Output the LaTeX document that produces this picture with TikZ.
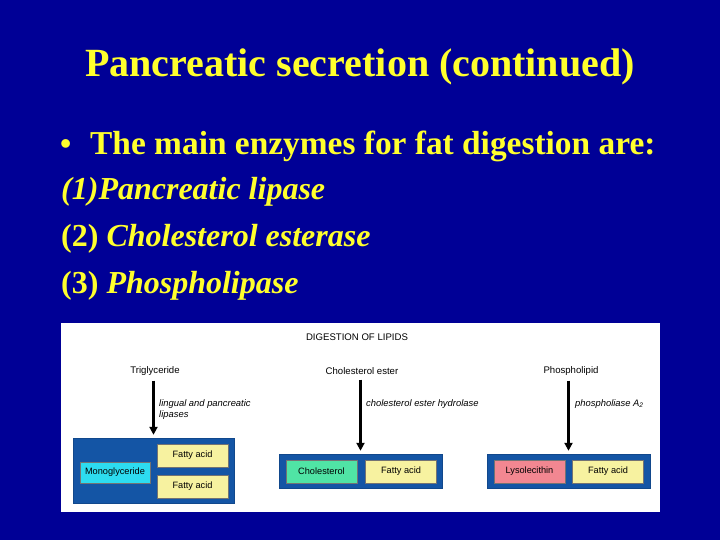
\documentclass[tikz,border=0pt]{standalone}
\usepackage{fontspec}
\setmainfont{Liberation Serif}
\newfontfamily\arialfont{Liberation Sans}
\usepackage{tikz}
\usetikzlibrary{arrows.meta,positioning}
\usepackage{xcolor}

\definecolor{slideblue}{RGB}{0,0,150}
\definecolor{slideyellow}{RGB}{255,255,45}
\definecolor{trayblue}{RGB}{20,85,165}
\definecolor{fattyyellow}{RGB}{247,242,160}
\definecolor{monocyan}{RGB}{45,220,240}
\definecolor{cholgreen}{RGB}{80,228,165}
\definecolor{lysopink}{RGB}{242,135,145}

\tikzset{
  slidetxt/.style={text=slideyellow, anchor=base west, inner sep=0pt,
    font=\bfseries\fontsize{32}{36}\selectfont},
  lbl/.style={inner sep=0pt, font=\arialfont\fontsize{9.6}{11}\selectfont},
  enz/.style={inner sep=0pt, anchor=north west, align=left,
    font=\arialfont\itshape\fontsize{9.4}{11}\selectfont},
  tray/.style={fill=trayblue, draw=trayblue!85!black, inner sep=0pt},
  prod/.style={draw=black!55, line width=0.5pt, inner sep=0pt,
    minimum width=71pt, minimum height=23pt,
    font=\arialfont\fontsize{9.2}{11}\selectfont},
  lipidarrow/.style={-{Triangle[width=8pt,length=8pt]}, line width=2.4pt}
}

\begin{document}
\begin{tikzpicture}[x=1pt, y=-1pt]
\fill[slideblue] (0,0) rectangle (720,540);
\useasboundingbox (0,0) rectangle (720,540);
% --- title and list ---
\node[text=slideyellow, inner sep=0pt, anchor=base, font=\bfseries\fontsize{40}{44}\selectfont]
  (title) at (360,77) {Pancreatic secretion (continued)};
\node[slidetxt] (bul) at (60,155) {\textbullet};
\node[slidetxt, font=\bfseries\fontsize{33.4}{36}\selectfont] (line1) at (90,155) {The main enzymes for fat digestion are:};
\node[slidetxt] (line2) at (61,200) {\itshape (1)Pancreatic lipase};
\node[slidetxt] (line3) at (61,247) {(2) \textit{Cholesterol esterase}};
\node[slidetxt] (line4) at (61,293) {(3) \textit{Phospholipase}};
% --- figure: digestion of lipids ---
\fill[white] (61,323) rectangle (660,512);
\node[lbl] (head) at (357,337) {DIGESTION OF LIPIDS};
% triglyceride
\node[lbl] (tri) at (155,371) {Triglyceride};
\node[enz] (lip) at (159,399) {lingual and pancreatic\\lipases};
\node[tray, minimum width=161pt, minimum height=65pt] (tray1) at (153.5,470.5) {};
\node[prod, fill=monocyan, minimum width=70pt, minimum height=21pt] (mono) at (115,472.5) {Monoglyceride};
\node[prod, fill=fattyyellow] (fa1) at (192.5,455.5) {Fatty acid};
\node[prod, fill=fattyyellow] (fa2) at (192.5,486.5) {Fatty acid};
\draw[lipidarrow] (tray1.north |- tri.south) ++(0,5) -- ([yshift=3pt]tray1.north);
% cholesterol ester
\node[lbl] (ester) at (362,371) {Cholesterol ester};
\node[enz] (hyd) at (366,399) {cholesterol ester hydrolase};
\node[tray, minimum width=163pt, minimum height=34pt] (tray2) at (360.5,471) {};
\node[prod, fill=cholgreen] (chol) at (321.5,471.5) {Cholesterol};
\node[prod, fill=fattyyellow, right=8pt of chol] (fa3) {Fatty acid};
\draw[lipidarrow] (tray2.north |- ester.south) ++(0,5) -- ([yshift=3pt]tray2.north);
% phospholipid
\node[lbl] (phos) at (571,371) {Phospholipid};
\node[enz] (pla) at (575,399) {phospholiase A\textsubscript{2}};
\node[tray, minimum width=163pt, minimum height=34pt] (tray3) at (568.5,471) {};
\node[prod, fill=lysopink] (lyso) at (529.5,471.5) {Lysolecithin};
\node[prod, fill=fattyyellow, right=7pt of lyso] (fa4) {Fatty acid};
\draw[lipidarrow] (tray3.north |- phos.south) ++(0,5) -- ([yshift=3pt]tray3.north);
\end{tikzpicture}
\end{document}
